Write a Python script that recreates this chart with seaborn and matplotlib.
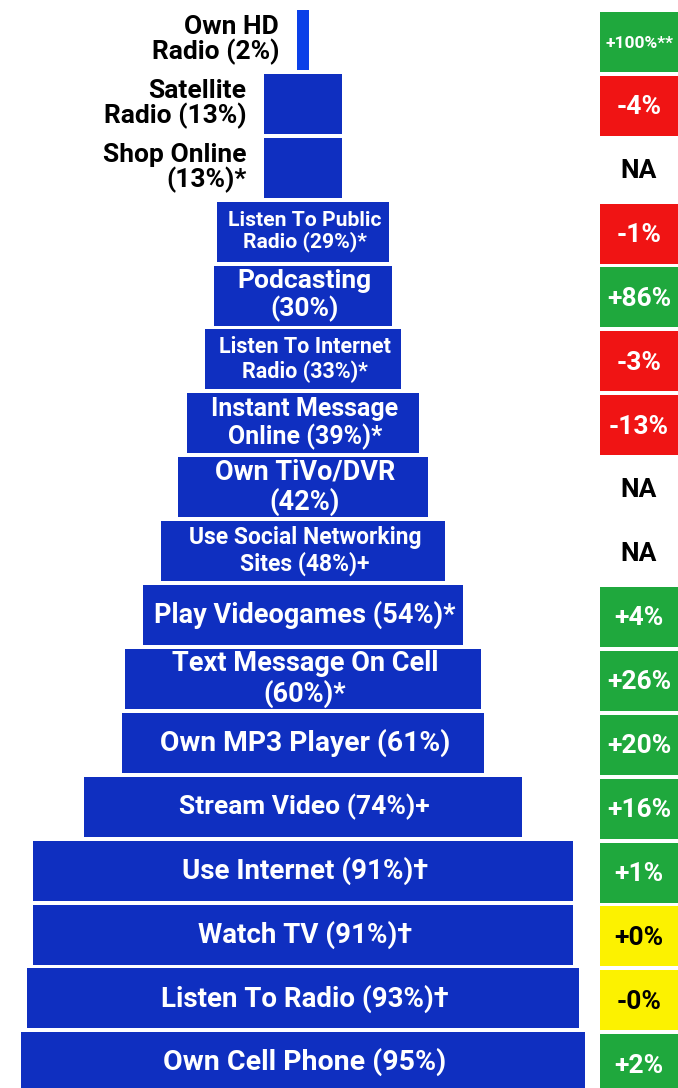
import matplotlib
matplotlib.use("Agg")
import matplotlib.pyplot as plt
from matplotlib import font_manager
import seaborn as sns
import pandas as pd

# ---------------- data ----------------
activities = [
    "Own HD\nRadio (2%)",
    "Satellite\nRadio (13%)",
    "Shop Online\n(13%)*",
    "Listen To Public\nRadio (29%)*",
    "Podcasting\n(30%)",
    "Listen To Internet\nRadio (33%)*",
    "Instant Message\nOnline (39%)*",
    "Own TiVo/DVR\n(42%)",
    "Use Social Networking\nSites (48%)+",
    "Play Videogames (54%)*",
    "Text Message On Cell\n(60%)*",
    "Own MP3 Player (61%)",
    "Stream Video (74%)+",
    "Use Internet (91%)\u2020",
    "Watch TV (91%)\u2020",
    "Listen To Radio (93%)\u2020",
    "Own Cell Phone (95%)",
]
share_pct = [2, 13, 13, 29, 30, 33, 39, 42, 48, 54, 60, 61, 74, 91, 91, 93, 95]
change_text = ["+100%**", "-4%", "NA", "-1%", "+86%", "-3%", "-13%", "NA", "NA",
               "+4%", "+26%", "+20%", "+16%", "+1%", "+0%", "-0%", "+2%"]
change_kind = ["up", "down", "na", "down", "up", "down", "down", "na", "na",
               "up", "up", "up", "up", "up", "flat", "flat", "up"]

# ---------------- style ----------------
sns.set_theme(style="white")
avail = {f.name for f in font_manager.fontManager.ttflist}
FONT = "Liberation Sans Narrow" if "Liberation Sans Narrow" in avail else "Roboto"
plt.rcParams["font.family"] = [FONT, "DejaVu Sans"]

BLUE = "#0f2fc0"
BLUE_HI = "#0a40e8"
KIND_COLOR = {"up": "#1fa83d", "down": "#f01414", "flat": "#fcf200", "na": "none"}
KIND_TEXT = {"up": "white", "down": "white", "flat": "black", "na": "black"}
label_sizes = [19, 19, 19, 15.2, 19, 15.5, 18, 19.5, 16.5, 19.5, 19.5,
               20.3, 19, 20, 20, 20, 20.5]

W, H = 678, 1088
PX = 5.93          # pixels per percent
CX = 303           # center of pyramid (px)
TOP = 8            # top of first row (px)
PITCH = 63.9       # row pitch (px)

fig = plt.figure(figsize=(W / 100, H / 100), dpi=100)
ax = fig.add_axes([0, 0, 1, 1])

df = pd.DataFrame({"activity": activities, "pct": share_pct})
df["right"] = df["pct"] / 2
df["left"] = -df["pct"] / 2
pal = {a: (BLUE_HI if i == 0 else BLUE) for i, a in enumerate(activities)}

for col in ["right", "left"]:
    sns.barplot(data=df, x=col, y="activity", hue="activity", palette=pal,
                order=activities, orient="h", width=0.94, linewidth=0,
                saturation=1, legend=False, ax=ax)

x0 = -CX / PX
x1 = (W - CX) / PX
ax.set_xlim(x0, x1)
ax.set_ylim(-0.5 + (H - TOP) / PITCH, -0.5 - TOP / PITCH)

# change boxes on the right
box_left = (600 - CX) / PX
box_w = x1 - box_left + 1
for i, (txt, kind) in enumerate(zip(change_text, change_kind)):
    if kind != "na":
        ax.barh(i + 0.03, box_w, left=box_left, height=0.94,
                color=KIND_COLOR[kind], linewidth=0)
    fs = 12.5 if len(txt) > 5 else 19
    ax.text((639 - CX) / PX, i + 0.05, txt, ha="center", va="center",
            color=KIND_TEXT[kind], fontsize=fs, fontweight="bold")

# bar labels
for i, (lab, p) in enumerate(zip(activities, share_pct)):
    if p < 20:
        ax.text(-p / 2 - 18 / PX, i, lab, ha="right", va="center",
                multialignment="right", color="black", fontsize=label_sizes[i],
                fontweight="bold", linespacing=1.0)
    else:
        ax.text(0.3, i, lab, ha="center", va="center", multialignment="center",
                color="white", fontsize=label_sizes[i], fontweight="bold",
                linespacing=1.1)

ax.set_axis_off()
fig.savefig("out.png", dpi=100, facecolor="white")
